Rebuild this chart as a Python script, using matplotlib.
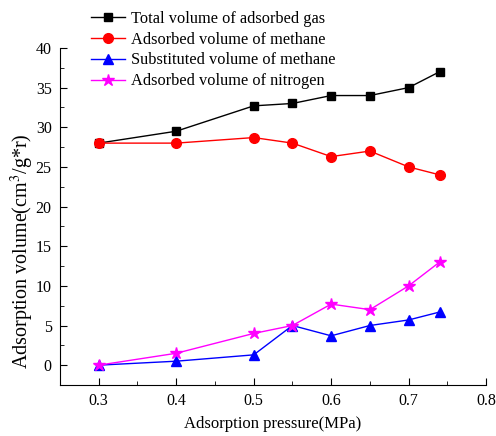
import matplotlib.pyplot as plt
from matplotlib.ticker import MultipleLocator

plt.rcParams['font.family'] = ['Liberation Serif', 'DejaVu Serif']
plt.rcParams['mathtext.fontset'] = 'stix'

pressure = [0.3, 0.4, 0.5, 0.55, 0.6, 0.65, 0.7, 0.74]
total_gas = [28, 29.5, 32.7, 33, 34, 34, 35, 37]
methane = [28, 28, 28.7, 28, 26.3, 27, 25, 24]
substituted = [0, 0.5, 1.3, 5, 3.7, 5, 5.7, 6.7]
nitrogen = [0, 1.5, 4, 5, 7.7, 7, 10, 13]

fig = plt.figure(figsize=(4.96, 4.36), dpi=100)
ax = fig.add_axes([0.121, 0.117, 0.859, 0.773])

ax.plot(pressure, total_gas, color='black', marker='s', markersize=6, lw=1,
        label='Total volume of adsorbed gas')
ax.plot(pressure, methane, color='red', marker='o', markersize=7, lw=1,
        label='Adsorbed volume of methane')
ax.plot(pressure, substituted, color='blue', marker='^', markersize=7, lw=1,
        label='Substituted volume of methane')
ax.plot(pressure, nitrogen, color='magenta', marker='*', markersize=9, lw=1,
        label='Adsorbed volume of nitrogen')

ax.set_xlim(0.25, 0.8)
ax.set_ylim(-2.5, 40)
ax.xaxis.set_major_locator(MultipleLocator(0.1))
ax.xaxis.set_minor_locator(MultipleLocator(0.05))
ax.yaxis.set_major_locator(MultipleLocator(5))
ax.yaxis.set_minor_locator(MultipleLocator(2.5))
ax.spines['top'].set_visible(False)
ax.spines['right'].set_visible(False)
ax.tick_params(which='both', direction='in', labelsize=11.5)
ax.tick_params(which='major', length=5)
ax.tick_params(which='minor', length=3)
ax.tick_params(axis='x', pad=6)
ax.tick_params(axis='y', pad=6)
ax.set_xticks([0.3, 0.4, 0.5, 0.6, 0.7, 0.8])
ax.set_xticklabels(['0.3', '0.4', '0.5', '0.6', '0.7', '0.8'])

ax.set_xlabel('Adsorption pressure(MPa)', fontsize=12, labelpad=5)
ax.set_ylabel('Adsorption volume(cm$^3$/g*r)', fontsize=14.5)
ax.yaxis.set_label_coords(-0.056, 0.397)

fig.legend(loc='upper left', bbox_to_anchor=(0.162, 1.0), frameon=False,
           fontsize=11.8, handlelength=2.1, handletextpad=0.35, labelspacing=0.3,
           borderpad=0.15)

fig.savefig('out.png', dpi=100)
